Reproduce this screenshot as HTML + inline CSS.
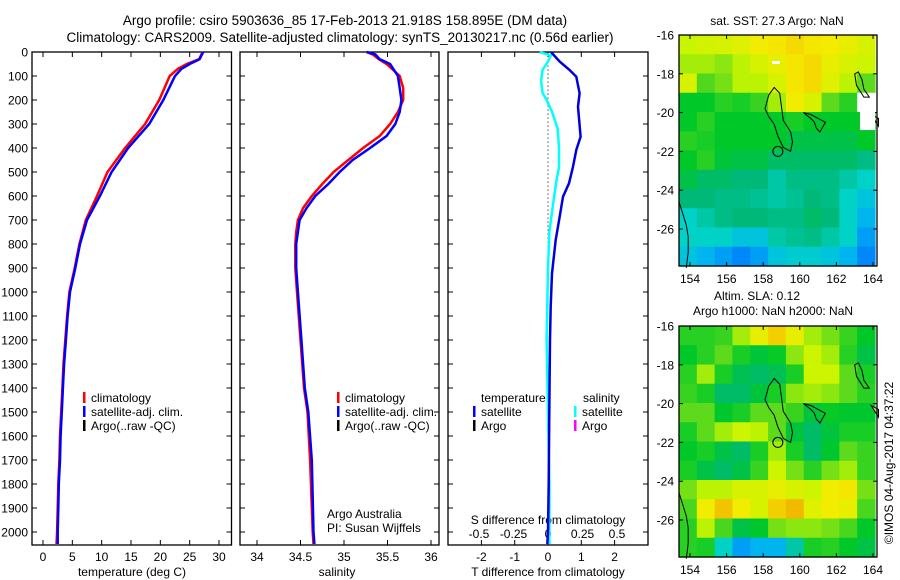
<!DOCTYPE html>
<html><head><meta charset="utf-8"><style>
body{margin:0;background:#fff;}
svg{display:block;font-family:"Liberation Sans",sans-serif;}
text{fill:#000;}
</style></head><body>
<svg id="fig" width="900" height="580" viewBox="0 0 900 580" xmlns="http://www.w3.org/2000/svg">
<text x="345" y="25" font-size="13.5" text-anchor="middle">Argo profile: csiro 5903636_85 17-Feb-2013 21.918S 158.895E (DM data)</text>
<text x="340" y="42" font-size="13.5" text-anchor="middle">Climatology: CARS2009. Satellite-adjusted climatology: synTS_20130217.nc (0.56d earlier)</text>
<g id="g"></g>
</svg>
<script>
// ---- data ----
const tDepth = [0,30,50,70,100,200,300,400,500,600,700,800,900,1000,1100,1200,1300,1400,1500,1600,1700,1800,1900,2000,2050];
const tSat   = [27.3,26.7,25,23.6,22.5,20.5,18.1,14.5,11.7,9.7,7.5,6.3,5.5,4.6,4.2,3.9,3.6,3.4,3.2,3.0,2.9,2.7,2.6,2.5,2.5];
const tClim  = [27.2,26.6,24.5,23,21.6,19.8,17.4,14.0,11.0,9.2,7.3,6.2,5.4,4.5,4.1,3.8,3.5,3.3,3.1,2.9,2.8,2.6,2.5,2.4,2.3];
const sDepth = [0,10,30,50,100,150,200,250,300,350,400,450,500,550,600,650,700,750,800,900,1000,1200,1400,1500,1700,2000,2050];
const sSat   = [35.26,35.36,35.41,35.53,35.62,35.64,35.66,35.64,35.59,35.49,35.3,35.1,34.95,34.82,34.67,34.57,34.49,34.47,34.45,34.45,34.47,34.51,34.55,34.59,34.63,34.65,34.66];
const sClim  = [35.26,35.33,35.4,35.49,35.64,35.68,35.68,35.62,35.53,35.41,35.22,35.05,34.88,34.75,34.63,34.53,34.47,34.45,34.44,34.44,34.46,34.5,34.54,34.58,34.61,34.64,34.65];
const dDepth = [0,40,75,103,172,228,353,408,478,547,603,686,783,922,1061,1200,1500,1800,2000,2050];
const dTSat  = [0.09,0.35,0.65,0.85,0.95,0.9,0.98,0.85,0.75,0.63,0.45,0.35,0.23,0.12,0.08,0.06,0.04,0.02,0.0,-0.02];
const dsDepth= [0,15,40,75,120,170,200,250,320,400,480,540,620,750,900,1200,1500,1800,2050];
const dSSat  = [-0.06,0.02,0.0,-0.04,-0.05,-0.04,-0.01,0.03,0.07,0.08,0.08,0.06,0.04,0.01,0,-0.01,0.0,0.01,0.01];
const depthTicks = [0,100,200,300,400,500,600,700,800,900,1000,1100,1200,1300,1400,1500,1600,1700,1800,1900,2000];
const tempTicks = [0,5,10,15,20,25,30];
const salTicks = [34,34.5,35,35.5,36];
const salTickLabels = ["34","34.5","35","35.5","36"];
const dTTicks = [-2,-1,0,1,2];
const dSTicks = [-0.5,-0.25,0,0.25,0.5];
const latTicks = [-16,-18,-20,-22,-24,-26];
const lonTicks = [154,156,158,160,162,164];
const sstGrid = [
[0.75,0.77,0.78,0.8,0.84,0.86,0.88,0.86,0.85,0.82,0.78],
[0.72,0.72,0.7,0.74,0.78,0.82,0.86,0.88,0.82,0.78,0.76],
[0.78,0.65,0.68,0.74,0.74,0.78,0.86,0.88,0.8,0.74,0.66],
[0.55,0.55,0.6,0.58,0.62,0.72,0.84,0.78,0.66,0.6,-1],
[0.55,0.6,0.55,0.55,0.55,0.55,0.58,0.55,0.55,0.55,0.55],
[0.6,0.58,0.55,0.55,0.55,0.55,0.5,0.5,0.5,0.5,0.55],
[0.55,0.6,0.52,0.5,0.5,0.45,0.45,0.45,0.45,0.45,0.4],
[0.5,0.45,0.45,0.42,0.42,0.35,0.4,0.4,0.4,0.35,0.3],
[0.42,0.42,0.4,0.4,0.38,0.35,0.38,0.42,0.4,0.3,0.25],
[0.3,0.35,0.4,0.42,0.42,0.4,0.4,0.45,0.42,0.3,0.2],
[0.3,0.3,0.3,0.25,0.25,0.35,0.38,0.4,0.35,0.3,0.15],
[0.25,0.2,0.15,0.1,0.15,0.25,0.28,0.28,0.25,0.2,0.1]];
const slaGrid = [
[0.6,0.6,0.62,0.72,0.82,0.9,0.82,0.72,0.68,0.62,0.55],
[0.55,0.6,0.66,0.58,0.52,0.56,0.7,0.76,0.72,0.6,0.5],
[0.6,0.72,0.58,0.48,0.45,0.48,0.58,0.76,0.76,0.66,0.58],
[0.62,0.58,0.45,0.45,0.52,0.58,0.7,0.72,0.7,0.66,0.6],
[0.66,0.66,0.54,0.58,0.66,0.66,0.62,0.52,0.56,0.54,0.54],
[0.58,0.66,0.72,0.76,0.74,0.66,0.52,0.45,0.52,0.58,0.58],
[0.55,0.58,0.5,0.45,0.58,0.72,0.58,0.45,0.54,0.66,0.62],
[0.58,0.5,0.45,0.5,0.62,0.76,0.68,0.6,0.68,0.72,0.62],
[0.68,0.74,0.74,0.78,0.78,0.82,0.78,0.76,0.84,0.86,0.68],
[0.64,0.84,0.92,0.84,0.78,0.9,0.94,0.8,0.84,0.82,0.64],
[0.6,0.74,0.64,0.5,0.54,0.68,0.7,0.7,0.68,0.64,0.55],
[0.6,0.58,0.3,0.15,0.2,0.2,0.35,0.58,0.6,0.55,0.5]];
const reefLon = [158.1,158.3,158.6,158.9,159.0,159.1,159.5,159.6,159.5,159.1,158.8,158.6,158.3,158.1];
const reefLat = [-19.8,-19.1,-18.7,-19.0,-19.7,-20.4,-21.0,-21.5,-22.0,-21.8,-21.2,-20.6,-20.2,-19.8];
const reef2Lon = [160.2,160.6,161.0,161.4,161.1,160.9,160.8,160.6,160.2];
const reef2Lat = [-20.0,-20.1,-20.3,-20.5,-21.0,-20.8,-20.5,-20.3,-20.0];
const reef3Lon = [163.0,163.2,163.4,163.5,163.8,163.5,163.1,163.0];
const reef3Lat = [-18.0,-17.9,-18.3,-18.8,-19.2,-19.2,-18.6,-18.0];
const coastLon = [153.4,153.6,153.8,153.9,153.9,153.8];
const coastLat = [-24.6,-25.2,-25.8,-26.4,-27.2,-28.0];

const NS="http://www.w3.org/2000/svg";
const G=document.getElementById('g');
function el(tag,attrs,parent){const e=document.createElementNS(NS,tag);for(const k in attrs)e.setAttribute(k,attrs[k]);(parent||G).appendChild(e);return e;}
function txt(x,y,s,size,anchor,parent){const t=el('text',{x:x,y:y,'font-size':size,'text-anchor':anchor||'middle'},parent);t.textContent=s;return t;}

const Y0=52,Y1=545;
function yD(d){return 52+d*0.24;}
function xT(t){return 43+t*5.867;}
function xS(s){return 257+(s-34)*87;}
function xDT(v){return 548+v*33.3;}
function xDS(v){return 548+v*138;}

function frame(x0,x1,name){
  const r=el('rect',{x:x0,y:Y0,width:x1-x0,height:Y1-Y0,fill:'none',stroke:'#000','stroke-width':1.3});
  
  
  depthTicks.forEach(d=>{el('line',{x1:x0,x2:x0+5,y1:yD(d),y2:yD(d),stroke:'#000'});el('line',{x1:x1,x2:x1-5,y1:yD(d),y2:yD(d),stroke:'#000'});});
}
function line(xs,ys,color,w,name){
  const pts=xs.map((x,i)=>x.toFixed(1)+','+ys[i].toFixed(1)).join(' ');
  const p=el('polyline',{points:pts,fill:'none',stroke:color,'stroke-width':w});
  
  
}
// Panel 1
frame(32,231.5,'temperature-panel');
depthTicks.forEach(d=>{const t=txt(28,yD(d)+4.5,String(d),12,'end');});
tempTicks.forEach(v=>{el('line',{x1:xT(v),x2:xT(v),y1:Y1,y2:Y1-5,stroke:'#000'});el('line',{x1:xT(v),x2:xT(v),y1:Y0,y2:Y0+5,stroke:'#000'});const t=txt(xT(v),Y1+16,String(v),12);});
let t1=txt(132,576,'temperature (deg C)',12);
line(tClim.map(xT),tDepth.map(yD),'#ff0000',2.5,'temperature-climatology-line');
line(tSat.map(xT),tDepth.map(yD),'#0000ff',2.5,'temperature-satellite-line');
// Panel 2
frame(240,439,'salinity-panel');
salTicks.forEach((v,i)=>{el('line',{x1:xS(v),x2:xS(v),y1:Y1,y2:Y1-5,stroke:'#000'});el('line',{x1:xS(v),x2:xS(v),y1:Y0,y2:Y0+5,stroke:'#000'});const t=txt(xS(v),Y1+16,salTickLabels[i],12);});
t1=txt(337,576,'salinity',12);
line(sClim.map(xS),sDepth.map(yD),'#ff0000',2.5,'salinity-climatology-line');
line(sSat.map(xS),sDepth.map(yD),'#0000ff',2.5,'salinity-satellite-line');
// legends
function legend(x,y,items,name){
  const g=el('g',{});
  items.forEach((it,i)=>{el('rect',{x:x,y:y+i*14-10,width:2.5,height:11,fill:it[0]},g);txt(x+8,y+i*14,it[1],12,'start',g);});
}
legend(83,402,[['#ff0000','climatology'],['#0000ff','satellite-adj. clim.'],['#000','Argo(..raw -QC)']],'temperature-legend');
legend(337,402,[['#ff0000','climatology'],['#0000ff','satellite-adj. clim.'],['#000','Argo(..raw -QC)']],'salinity-legend');
t1=txt(327,518,'Argo Australia',12,'start');
t1=txt(327,532,'PI: Susan Wijffels',12,'start');
// Panel 3
frame(448,648,'difference-panel');
dTTicks.forEach(v=>{el('line',{x1:xDT(v),x2:xDT(v),y1:Y1,y2:Y1-5,stroke:'#000'});el('line',{x1:xDT(v),x2:xDT(v),y1:Y0,y2:Y0+5,stroke:'#000'});const t=txt(xDT(v),Y1+16,String(v),12);});
dSTicks.forEach(v=>{const t=txt(xDS(v),538,String(v),12);});
t1=txt(548,524,'S difference from climatology',12);
t1=txt(548,576,'T difference from climatology',12);
el('line',{x1:xDT(0),x2:xDT(0),y1:yD(40),y2:yD(880),stroke:'#000','stroke-dasharray':'1,3'});
line(dSSat.map(xDS),dsDepth.map(yD),'#00ffff',2.5,'salinity-difference-line');
line(dTSat.map(xDT),dDepth.map(yD),'#0000dd',2.5,'temperature-difference-line');
txt(481,402,'temperature',12,'start');
legend(473,416,[['#0000ff','satellite'],['#000','Argo']],'t-diff-legend');
txt(583,402,'salinity',12,'start');
legend(574,416,[['#00ffff','satellite'],['#ff00ff','Argo']],'s-diff-legend');
// Maps
function cmap(v){
  if(v<0) return '#ffffff';
  const stops=[[0,[0,90,255]],[0.2,[0,180,240]],[0.3,[0,210,200]],[0.42,[0,185,120]],[0.55,[0,200,40]],[0.65,[80,215,30]],[0.75,[200,245,0]],[0.85,[245,235,0]],[0.95,[240,180,0]],[1,[230,140,0]]];
  for(let i=1;i<stops.length;i++){if(v<=stops[i][0]){const a=stops[i-1],b=stops[i],f=(v-a[0])/(b[0]-a[0]);return 'rgb('+a[1].map((c,k)=>Math.round(c+(b[1][k]-c)*f)).join(',')+')';}}
  return 'rgb(230,140,0)';
}
function map(top,grid,name){
  const X0=679,X1=877,B=top+231;
  const lonX=lon=>690+(lon-154)*18.3;
  const latY=lat=>top+(-16-lat)*19.4;
  const g=el('g',{});
  const rows=grid.length,cols=grid[0].length,cw=(875-X0)/cols,ch=(B-top)/rows;
  grid.forEach((row,r)=>row.forEach((v,c)=>{const cell=el('rect',{x:(X0+c*cw).toFixed(2),y:(top+r*ch).toFixed(2),width:(cw+0.6).toFixed(2),height:(ch+0.6).toFixed(2),fill:cmap(v)},g);
    
    }));
  function poly(lons,lats,close){const pts=lons.map((l,i)=>lonX(l).toFixed(1)+','+latY(lats[i]).toFixed(1)).join(' ');el(close?'polygon':'polyline',{points:pts,fill:'none',stroke:'#000','stroke-width':1},g);}
  poly(reefLon,reefLat,true);poly(reef2Lon,reef2Lat,true);poly(reef3Lon,reef3Lat,true);poly(coastLon,coastLat,false);
  el('circle',{cx:lonX(158.8),cy:latY(-22),r:5,fill:'none',stroke:'#000'},g);
  el('polygon',{points:[[lonX(163.9),latY(-20.1)],[lonX(164.3),latY(-20.3)],[lonX(164.3),latY(-20.7)]].join(' '),fill:'#f5c090',stroke:'#000'},g);
  el('rect',{x:X0,y:top,width:X1-X0,height:B-top,fill:'none',stroke:'#000','stroke-width':1.3},g);
  latTicks.forEach(l=>{el('line',{x1:X0,x2:X0+4,y1:latY(l),y2:latY(l),stroke:'#000'},g);el('line',{x1:X1,x2:X1-4,y1:latY(l),y2:latY(l),stroke:'#000'},g);const t=txt(674,latY(l)+4.5,String(l),12,'end',g);});
  lonTicks.forEach(l=>{el('line',{x1:lonX(l),x2:lonX(l),y1:top,y2:top+4,stroke:'#000'},g);el('line',{x1:lonX(l),x2:lonX(l),y1:B,y2:B-4,stroke:'#000'},g);const t=txt(lonX(l),B+17,String(l),12,'middle',g);});
}
map(35,sstGrid,'sst-map');
el('rect',{x:860,y:35+3.3*19.4,width:15,height:1.6*19.4,fill:'#fff'});
el('rect',{x:772,y:61,width:8,height:3,fill:'#fff'});
map(326,slaGrid,'sla-map');
t1=txt(777,25,'sat. SST: 27.3 Argo: NaN',12);
t1=txt(757,300,'Altim. SLA: 0.12',12);
t1=txt(773,315,'Argo h1000: NaN h2000: NaN',12);
t1=el('text',{x:0,y:0,'font-size':12,'text-anchor':'middle',transform:'translate(893,463) rotate(-90)'});t1.textContent='©IMOS 04-Aug-2017 04:37:22';


</script>
</body></html>
